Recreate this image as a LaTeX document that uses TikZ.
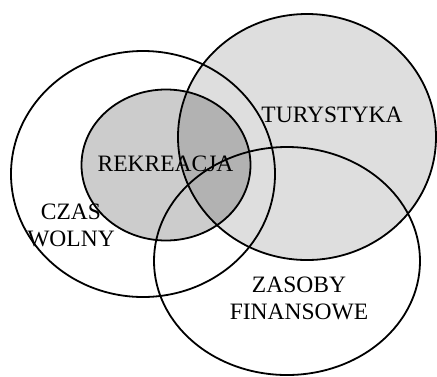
\documentclass[tikz,border=0pt]{standalone}
\usepackage{fontspec}
\setmainfont{Liberation Serif}
\usetikzlibrary{positioning}
\tikzstyle{set} = [line width=1.8pt, draw=black]
\tikzstyle{shaded} = [set, fill=black, fill opacity=0.13]
\tikzstyle{label} = [align=center, inner sep=0pt, font=\fontsize{23.5}{27}\selectfont]

\begin{document}
\begin{tikzpicture}[x=1pt, y=-1pt]
      \useasboundingbox (0,0) rectangle (437,376);

      \draw[set] (143,174) ellipse [x radius=132, y radius=123];
      \draw[shaded, fill opacity=0.2] (166,165) ellipse [x radius=84.5, y radius=75.5];
      \draw[shaded] (307,137) ellipse [x radius=129, y radius=123];
      \draw[set] (287,261) ellipse [x radius=133, y radius=114];

      \node[label] (tur) at (332,115) {TURYSTYKA};
      \node[label] (rek) at (165.5,164) {REKREACJA};
      \node[label] (czas) at (71,225) {CZAS\\WOLNY};
      \node[label] (zas) at (299,298) {ZASOBY\\FINANSOWE};
    \end{tikzpicture}
\end{document}
